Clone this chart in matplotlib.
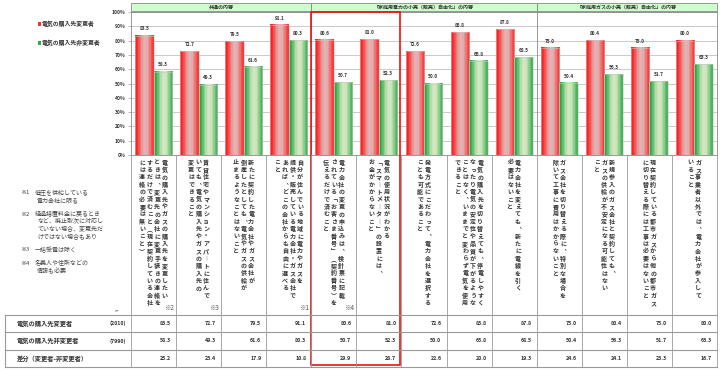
import matplotlib
matplotlib.use('Agg')
import matplotlib.pyplot as plt
import numpy as np
from matplotlib.patches import Rectangle
from matplotlib.colors import to_rgb

plt.rcParams['font.family'] = ['Noto Sans CJK JP', 'DejaVu Sans']

# 電気の購入先変更者 / 非変更者 (%)
changers = [83.5, 72.7, 79.5, 91.1, 80.6, 81.0, 72.6, 85.8, 87.8, 75.0, 80.4, 75.0, 80.0]
non_changers = [58.3, 49.3, 61.6, 80.3, 50.7, 52.3, 50.0, 65.8, 68.5, 50.4, 56.3, 51.7, 63.3]
diffs = [25.2, 23.4, 17.9, 10.8, 29.9, 28.7, 22.6, 20.0, 19.3, 24.6, 24.1, 23.3, 16.7]
n_changers = '(2010)'
n_non = '(7990)'

# 選択肢の文言（縦書き、右の行から）
cat_lines = [
    ['電気の購入先やガスの購入先を変更したい', 'ときは、変更先の会社に変更手続きの連絡を',
     'するだけで済むこと（現在契約している会社', 'には連絡の必要は無いこと）'],
    ['賃貸住宅やマンション・アパートに住んで', 'いても、電気の購入先やガスの購入先の', '変更はできること'],
    ['新たに契約した電力会社やガス会社が', '倒産したとしても、電気やガスの供給が', '止まるようなことはないこと'],
    ['自分が住んでいる地域に電力やガスを', '提供・販売している電力会社・ガス会社で',
     'あれば、どこの会社からも自由に選べる', 'こと'],
    ['電力会社の変更の申込みは、検針票に記載', 'されている「お客さま番号」（契約番号）を', '伝えるだけで済むこと'],
    ['電気の使用状況がわかる', '「スマートメーター」の設置には、', 'お金がかからないこと'],
    ['発電方式にこだわって、電力会社を選択する', 'ことも可能であること'],
    ['電気の購入先を切り替えても、停電しやすく', 'なったり電気の安定性や品質が下がるような',
     'ことはなく、いままでと変わらず電気を使用', 'できること'],
    ['電力会社を変えても、新たに電線を引く', '必要はないこと'],
    ['ガス会社を切り替える際に、特別な場合を', '除いて工事に費用はかからないこと'],
    ['新規参入のガス会社と契約しても、', 'ガスの供給が不安定になる可能性はない', 'こと'],
    ['現在契約している都市ガスから他の都市ガス', 'に切り替える際には工事は必要はないこと'],
    ['ガス事業者以外では、電力会社が参入して', 'いること'],
]
cat_marks = {0: '※2', 1: '※3', 3: '※1', 4: '※4'}
groups = [('共通の内容', 0, 4),
          ('「家庭用電力の小売（販売）自由化」の内容', 4, 9),
          ('「家庭用ガスの小売（販売）自由化」の内容', 9, 13)]
notes = [('※1', ['低圧を供給している', '電力会社に限る']),
         ('※2', ['経過措置料金に戻るとき', 'など、廃止取次に対応し', 'ていない場合、変更先だ', 'けではない場合もあり']),
         ('※3', ['一括受電は除く']),
         ('※4', ['名義人や住所などの', '情報も必要'])]

vert = {'、': '︑', '。': '︒', 'ー': '︱', '（': '︵', '）': '︶', '「': '﹁', '」': '﹂'}

W, H = 720, 372
X0, X1 = 131, 717
CW = (X1 - X0) / 13
Y100, Y0 = 12, 155

fig = plt.figure(figsize=(7.2, 3.72), dpi=100)
ov = fig.add_axes([0, 0, 1, 1], zorder=3)
ov.set_xlim(0, W)
ov.set_ylim(H, 0)
ov.axis('off')
ov.patch.set_alpha(0)

ax = fig.add_axes([X0 / W, (H - Y0) / H, (X1 - X0) / W, (Y0 - Y100) / H], zorder=2)
ax.set_xlim(-0.5, 12.5)
ax.set_ylim(0, 100)
ax.set_yticks(range(0, 101, 10))
ax.set_yticklabels([f'{v}%' for v in range(0, 101, 10)], fontsize=3.6, fontweight='bold', color='#333333')
ax.set_xticks([])
ax.tick_params(axis='y', length=2, width=0.4, pad=2, color='#888888')
ax.grid(axis='y', color='#b5b5b5', linewidth=0.5)
ax.set_axisbelow(True)
for s in ax.spines.values():
    s.set_color('#888888')
    s.set_linewidth(0.6)


def gradient(edge, mid):
    e, m = np.array(to_rgb(edge)), np.array(to_rgb(mid))
    t = np.array([0.0, 0.35, 0.8, 1.0, 0.95, 0.6, 0.2])
    cols = [e + (m - e) * v for v in t]
    return np.array(cols)[np.newaxis, :, :]


red_grad = gradient('#ff1f1f', '#e3b4b4')
green_grad = gradient('#2aa845', '#d5e8c2')

x = np.arange(13)
bw = 0.41
for vals, off, grad in [(changers, -bw / 2, red_grad), (non_changers, bw / 2, green_grad)]:
    bars = ax.bar(x + off, vals, width=bw, color='none', edgecolor='#c8c8c8', linewidth=0.4, zorder=3)
    for b, v in zip(bars, vals):
        ax.imshow(grad, extent=[b.get_x(), b.get_x() + b.get_width(), 0, v], aspect='auto', zorder=2.5)
        ax.annotate(f'{v:.1f}', (b.get_x() + b.get_width() / 2, v), xytext=(0, 3), textcoords='offset points',
                    ha='center', va='bottom', fontsize=3.4, fontweight='bold', color='#333333')
ax.set_xlim(-0.5, 12.5)
ax.set_ylim(0, 100)

# group separators in chart area
for _, a, b in groups[1:]:
    ax.axvline(a - 0.5, color='#888888', linewidth=0.6, zorder=4)

# group header band
for name, a, b in groups:
    xa, xb = X0 + a * CW, X0 + b * CW
    ov.add_patch(Rectangle((xa, 3.3), xb - xa, 7.7, facecolor='#ccffcc', edgecolor='#888888', linewidth=0.6))
    ov.text((xa + xb) / 2, 7.2, name, fontsize=3.6, fontweight='bold', ha='center', va='center', color='#333333')

# legend
ov.add_patch(Rectangle((37.5, 21.5), 3.5, 4, facecolor='#ff3030', edgecolor='none'))
ov.text(42, 23.5, '電気の購入先変更者', fontsize=4.2, fontweight='bold', va='center', color='#333333')
ov.add_patch(Rectangle((37.5, 41), 3.5, 4, facecolor='#33aa44', edgecolor='none'))
ov.text(42, 43, '電気の購入先非変更者', fontsize=4.2, fontweight='bold', va='center', color='#333333')

# notes
ny = 193
for mark, lines in notes:
    ov.text(20, ny, mark, fontsize=4.3, va='center', color='#444444')
    for i, ln in enumerate(lines):
        ov.text(35 if i == 0 else 37, ny + i * 7.3, ln, fontsize=4.3, va='center', color='#444444')
    ny += len(lines) * 7.3 + 6.5

# vertical category text
for k, lines in enumerate(cat_lines):
    cx = X0 + (k + 0.5) * CW
    n = len(lines)
    for i, ln in enumerate(lines):
        lx = cx + (n - 1) / 2 * 7.5 - i * 7.5
        for j, ch in enumerate(ln):
            ov.text(lx, 162 + j * 7.4, vert.get(ch, ch), fontsize=4.3, fontweight='bold',
                    ha='center', va='center', color='#333333')
    if k in cat_marks:
        ov.text(X0 + (k + 1) * CW - 2, 308, cat_marks[k], fontsize=4.6, ha='right', va='center', color='#555555')

# column lines below the chart
for k in range(14):
    xx = X0 + k * CW
    ov.plot([xx, xx], [Y0, 367], color='#999999', linewidth=0.6)
ov.text(117, 311, 'n=', fontsize=3, ha='center', va='center', color='#555555')

# table
rows = [315, 332, 350, 367]
for ry in rows:
    ov.plot([5, X1], [ry, ry], color='#999999', linewidth=0.8)
ov.plot([5, 5], [315, 367], color='#999999', linewidth=0.8)
row_labels = ['電気の購入先変更者', '電気の購入先非変更者', '差分（変更者-非変更者）']
row_n = [n_changers, n_non, '']
for r, (lab, nn, vals) in enumerate(zip(row_labels, row_n, [changers, non_changers, diffs])):
    yc = (rows[r] + rows[r + 1]) / 2
    ov.text(17, yc, lab, fontsize=4.5, fontweight='bold', va='center', color='#333333')
    ov.text(118, yc, nn, fontsize=3.8, fontweight='bold', ha='center', va='center', color='#333333')
    for k, v in enumerate(vals):
        ov.text(X0 + (k + 1) * CW - 5, yc, f'{v:.1f}', fontsize=3.8, fontweight='bold',
                ha='right', va='center', color='#333333')

# highlight box
ov.add_patch(Rectangle((311, 11.7), 88.5, 353.3, facecolor='none', edgecolor='#ee1111', linewidth=1.2))

fig.savefig('out.png', dpi=100)
